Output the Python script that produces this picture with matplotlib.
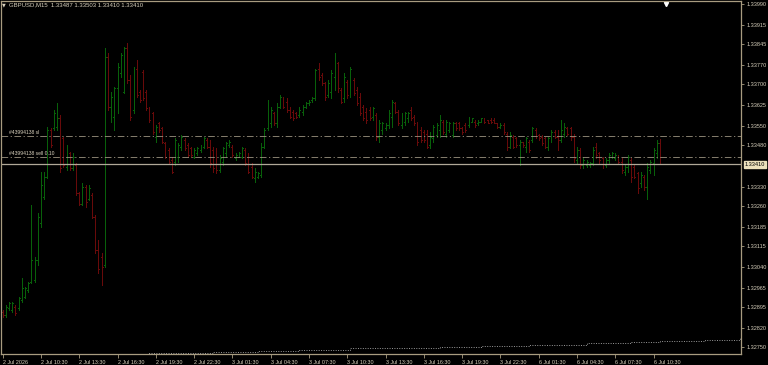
import numpy as np
import matplotlib.pyplot as plt

# GBPUSD M15 bars (bar index 0 = 2 Jul 07:30)
highs = [1.32884, 1.32902, 1.32914, 1.32914, 1.32902, 1.32932, 1.32998, 1.32968, 1.32986, 1.33263,
         1.33077, 1.33233, 1.33384, 1.33384, 1.33547, 1.33541, 1.33607, 1.33631, 1.33589, 1.33510,
         1.33480, 1.33456, 1.33450, 1.33414, 1.33312, 1.33342, 1.33336, 1.33336, 1.33306, 1.33227,
         1.33137, 1.33089, 1.33830, 1.33812, 1.33673, 1.33691, 1.33776, 1.33812, 1.33836, 1.33848,
         1.33733, 1.33763, 1.33788, 1.33679, 1.33751, 1.33679, 1.33619, 1.33601, 1.33553, 1.33565,
         1.33547, 1.33492, 1.33468, 1.33438, 1.33504, 1.33486, 1.33516, 1.33504, 1.33486, 1.33474,
         1.33468, 1.33474, 1.33480, 1.33510, 1.33504, 1.33498, 1.33474, 1.33468, 1.33444, 1.33474,
         1.33492, 1.33498, 1.33480, 1.33450, 1.33456, 1.33474, 1.33468, 1.33450, 1.33414, 1.33396,
         1.33384, 1.33486, 1.33541, 1.33643, 1.33619, 1.33601, 1.33631, 1.33661, 1.33655, 1.33649,
         1.33619, 1.33607, 1.33601, 1.33619, 1.33625, 1.33637, 1.33643, 1.33655, 1.33757, 1.33776,
         1.33739, 1.33709, 1.33715, 1.33751, 1.33812, 1.33782, 1.33685, 1.33739, 1.33715, 1.33763,
         1.33721, 1.33691, 1.33667, 1.33625, 1.33613, 1.33619, 1.33619, 1.33595, 1.33571, 1.33565,
         1.33559, 1.33607, 1.33643, 1.33637, 1.33607, 1.33595, 1.33601, 1.33601, 1.33619, 1.33589,
         1.33565, 1.33547, 1.33535, 1.33535, 1.33528, 1.33553, 1.33559, 1.33589, 1.33571, 1.33571,
         1.33565, 1.33565, 1.33565, 1.33565, 1.33547, 1.33559, 1.33583, 1.33577, 1.33571, 1.33571,
         1.33577, 1.33577, 1.33571, 1.33577, 1.33577, 1.33559, 1.33559, 1.33559, 1.33528, 1.33528,
         1.33516, 1.33510, 1.33498, 1.33492, 1.33510, 1.33498, 1.33547, 1.33541, 1.33522, 1.33516,
         1.33510, 1.33510, 1.33535, 1.33535, 1.33535, 1.33571, 1.33559, 1.33547, 1.33547, 1.33522,
         1.33474, 1.33468, 1.33438, 1.33426, 1.33420, 1.33474, 1.33486, 1.33456, 1.33438, 1.33432,
         1.33450, 1.33456, 1.33450, 1.33444, 1.33432, 1.33408, 1.33444, 1.33432, 1.33408, 1.33384,
         1.33384, 1.33372, 1.33414, 1.33426, 1.33468, 1.33498, 1.33503]
lows = [1.32860, 1.32860, 1.32884, 1.32878, 1.32866, 1.32884, 1.32914, 1.32926, 1.32950, 1.32980,
        1.32986, 1.33046, 1.33185, 1.33287, 1.33360, 1.33474, 1.33535, 1.33535, 1.33384, 1.33402,
        1.33390, 1.33390, 1.33390, 1.33300, 1.33263, 1.33263, 1.33257, 1.33281, 1.33215, 1.33089,
        1.33016, 1.32974, 1.33040, 1.33607, 1.33565, 1.33535, 1.33595, 1.33727, 1.33667, 1.33703,
        1.33571, 1.33595, 1.33655, 1.33637, 1.33643, 1.33607, 1.33565, 1.33522, 1.33492, 1.33528,
        1.33486, 1.33432, 1.33414, 1.33378, 1.33408, 1.33420, 1.33462, 1.33462, 1.33438, 1.33438,
        1.33432, 1.33444, 1.33456, 1.33468, 1.33468, 1.33402, 1.33384, 1.33378, 1.33384, 1.33408,
        1.33438, 1.33474, 1.33438, 1.33426, 1.33438, 1.33432, 1.33408, 1.33378, 1.33360, 1.33348,
        1.33360, 1.33366, 1.33468, 1.33535, 1.33547, 1.33553, 1.33547, 1.33613, 1.33613, 1.33601,
        1.33577, 1.33571, 1.33577, 1.33583, 1.33589, 1.33613, 1.33625, 1.33637, 1.33643, 1.33715,
        1.33697, 1.33643, 1.33655, 1.33649, 1.33679, 1.33673, 1.33631, 1.33637, 1.33649, 1.33655,
        1.33661, 1.33625, 1.33589, 1.33571, 1.33559, 1.33571, 1.33571, 1.33498, 1.33492, 1.33522,
        1.33535, 1.33541, 1.33547, 1.33595, 1.33553, 1.33541, 1.33553, 1.33565, 1.33571, 1.33553,
        1.33480, 1.33492, 1.33492, 1.33468, 1.33468, 1.33492, 1.33510, 1.33510, 1.33522, 1.33510,
        1.33528, 1.33510, 1.33535, 1.33535, 1.33522, 1.33528, 1.33547, 1.33565, 1.33547, 1.33553,
        1.33565, 1.33559, 1.33559, 1.33559, 1.33559, 1.33541, 1.33541, 1.33522, 1.33462, 1.33468,
        1.33468, 1.33474, 1.33408, 1.33474, 1.33456, 1.33456, 1.33492, 1.33504, 1.33498, 1.33480,
        1.33468, 1.33462, 1.33492, 1.33504, 1.33462, 1.33492, 1.33510, 1.33516, 1.33498, 1.33420,
        1.33414, 1.33396, 1.33396, 1.33402, 1.33402, 1.33408, 1.33432, 1.33414, 1.33396, 1.33402,
        1.33414, 1.33432, 1.33426, 1.33414, 1.33378, 1.33372, 1.33384, 1.33348, 1.33360, 1.33306,
        1.33330, 1.33318, 1.33287, 1.33378, 1.33372, 1.33432, 1.33410]
opens = [1.32878, 1.32866, 1.32890, 1.32884, 1.32896, 1.32890, 1.32920, 1.32932, 1.32956, 1.32986,
         1.32992, 1.33064, 1.33197, 1.33294, 1.33366, 1.33535, 1.33541, 1.33547, 1.33577, 1.33504,
         1.33402, 1.33450, 1.33396, 1.33408, 1.33306, 1.33269, 1.33330, 1.33287, 1.33300, 1.33221,
         1.33101, 1.33077, 1.33046, 1.33800, 1.33619, 1.33583, 1.33685, 1.33739, 1.33673, 1.33830,
         1.33715, 1.33607, 1.33757, 1.33673, 1.33745, 1.33673, 1.33613, 1.33595, 1.33510, 1.33559,
         1.33541, 1.33486, 1.33462, 1.33426, 1.33420, 1.33438, 1.33474, 1.33498, 1.33480, 1.33468,
         1.33438, 1.33450, 1.33462, 1.33474, 1.33498, 1.33474, 1.33462, 1.33450, 1.33390, 1.33420,
         1.33450, 1.33480, 1.33474, 1.33432, 1.33438, 1.33438, 1.33462, 1.33438, 1.33402, 1.33360,
         1.33366, 1.33372, 1.33474, 1.33541, 1.33559, 1.33595, 1.33559, 1.33619, 1.33649, 1.33637,
         1.33607, 1.33601, 1.33595, 1.33589, 1.33601, 1.33619, 1.33631, 1.33643, 1.33649, 1.33757,
         1.33733, 1.33703, 1.33661, 1.33673, 1.33727, 1.33776, 1.33679, 1.33649, 1.33709, 1.33667,
         1.33715, 1.33679, 1.33655, 1.33619, 1.33601, 1.33607, 1.33583, 1.33589, 1.33510, 1.33535,
         1.33541, 1.33553, 1.33583, 1.33631, 1.33601, 1.33553, 1.33565, 1.33577, 1.33607, 1.33583,
         1.33559, 1.33535, 1.33528, 1.33522, 1.33480, 1.33504, 1.33516, 1.33535, 1.33565, 1.33522,
         1.33535, 1.33516, 1.33559, 1.33559, 1.33541, 1.33553, 1.33553, 1.33565, 1.33565, 1.33559,
         1.33565, 1.33577, 1.33571, 1.33571, 1.33571, 1.33559, 1.33547, 1.33553, 1.33522, 1.33474,
         1.33510, 1.33504, 1.33480, 1.33492, 1.33474, 1.33492, 1.33498, 1.33535, 1.33516, 1.33510,
         1.33504, 1.33474, 1.33504, 1.33528, 1.33510, 1.33498, 1.33522, 1.33541, 1.33541, 1.33510,
         1.33426, 1.33462, 1.33408, 1.33408, 1.33408, 1.33414, 1.33474, 1.33450, 1.33432, 1.33408,
         1.33426, 1.33438, 1.33432, 1.33444, 1.33420, 1.33384, 1.33402, 1.33426, 1.33402, 1.33378,
         1.33342, 1.33366, 1.33330, 1.33390, 1.33414, 1.33450, 1.33487]
closes = [1.32866, 1.32896, 1.32908, 1.32908, 1.32872, 1.32926, 1.32962, 1.32962, 1.32980, 1.33064,
          1.33064, 1.33221, 1.33336, 1.33366, 1.33535, 1.33480, 1.33595, 1.33577, 1.33396, 1.33408,
          1.33468, 1.33396, 1.33438, 1.33306, 1.33269, 1.33330, 1.33275, 1.33324, 1.33221, 1.33101,
          1.33034, 1.33040, 1.33800, 1.33619, 1.33655, 1.33685, 1.33763, 1.33806, 1.33830, 1.33715,
          1.33583, 1.33757, 1.33661, 1.33643, 1.33649, 1.33613, 1.33571, 1.33528, 1.33547, 1.33535,
          1.33492, 1.33438, 1.33420, 1.33384, 1.33498, 1.33480, 1.33510, 1.33468, 1.33444, 1.33444,
          1.33462, 1.33468, 1.33474, 1.33504, 1.33474, 1.33414, 1.33396, 1.33390, 1.33432, 1.33468,
          1.33486, 1.33492, 1.33444, 1.33444, 1.33450, 1.33468, 1.33414, 1.33384, 1.33366, 1.33384,
          1.33378, 1.33474, 1.33535, 1.33631, 1.33607, 1.33559, 1.33619, 1.33655, 1.33619, 1.33607,
          1.33583, 1.33577, 1.33583, 1.33607, 1.33619, 1.33631, 1.33637, 1.33649, 1.33751, 1.33727,
          1.33703, 1.33655, 1.33703, 1.33739, 1.33800, 1.33685, 1.33637, 1.33727, 1.33661, 1.33757,
          1.33667, 1.33631, 1.33595, 1.33577, 1.33571, 1.33577, 1.33613, 1.33510, 1.33559, 1.33559,
          1.33553, 1.33595, 1.33637, 1.33601, 1.33559, 1.33589, 1.33595, 1.33595, 1.33577, 1.33559,
          1.33492, 1.33498, 1.33498, 1.33474, 1.33510, 1.33547, 1.33553, 1.33571, 1.33528, 1.33565,
          1.33559, 1.33559, 1.33541, 1.33541, 1.33528, 1.33535, 1.33577, 1.33577, 1.33553, 1.33565,
          1.33577, 1.33565, 1.33559, 1.33565, 1.33559, 1.33547, 1.33553, 1.33528, 1.33474, 1.33516,
          1.33474, 1.33480, 1.33492, 1.33480, 1.33504, 1.33462, 1.33541, 1.33510, 1.33504, 1.33486,
          1.33474, 1.33504, 1.33528, 1.33510, 1.33498, 1.33535, 1.33547, 1.33522, 1.33510, 1.33432,
          1.33462, 1.33408, 1.33426, 1.33420, 1.33414, 1.33462, 1.33444, 1.33426, 1.33408, 1.33426,
          1.33444, 1.33450, 1.33444, 1.33420, 1.33390, 1.33402, 1.33438, 1.33366, 1.33366, 1.33324,
          1.33372, 1.33330, 1.33402, 1.33420, 1.33462, 1.33486, 1.33410]

time_labels = ['2 Jul 2026', '2 Jul 10:30', '2 Jul 13:30', '2 Jul 16:30', '2 Jul 19:30', '2 Jul 22:30',
               '3 Jul 01:30', '3 Jul 04:30', '3 Jul 07:30', '3 Jul 10:30', '3 Jul 13:30', '3 Jul 16:30',
               '3 Jul 19:30', '3 Jul 22:30', '6 Jul 01:30', '6 Jul 04:30', '6 Jul 07:30', '6 Jul 10:30']
price_ticks = [1.33990, 1.33915, 1.33845, 1.33770, 1.33700, 1.33625, 1.33550, 1.33480,
               1.33330, 1.33260, 1.33185, 1.33115, 1.33040, 1.32965, 1.32895, 1.32820, 1.32750]

sl_price = 1.33513
entry_price = 1.33437
bid_price = 1.33410

# faint dotted line along the bottom (bar index, price)
ind_x = [36, 46, 56, 66, 80, 93, 109, 126, 137, 150, 165, 183, 197, 206, 220, 231]
ind_vals = [1.32726, 1.32727, 1.32730, 1.32734, 1.32737, 1.32741, 1.32745, 1.32748,
            1.32750, 1.32754, 1.32759, 1.32765, 1.32768, 1.32772, 1.32777, 1.32783]

highs = np.array(highs); lows = np.array(lows)
opens = np.array(opens); closes = np.array(closes)
x = np.arange(len(highs))

bg = 'black'
frame = '#a89c80'
txt = '#d8d0bc'
up = '#08600a'
down = '#680a0a'
cols = np.where(closes >= opens, up, down)

fig = plt.figure(figsize=(7.68, 3.65), dpi=100, facecolor=bg)
ax = fig.add_axes([1 / 768, 11 / 365, 740 / 768, 353 / 365], facecolor=bg)

# OHLC bars, 1 px wide
ax.vlines(x, lows, highs, colors=cols, linewidth=0.72, antialiased=False)
ax.hlines(opens, x - 0.3, x, colors=cols, linewidth=0.72, antialiased=False)
ax.hlines(closes, x, x + 0.3, colors=cols, linewidth=0.72, antialiased=False)

# order lines
ax.axhline(sl_price, color='#9c9480', lw=0.6, ls=(0, (8, 3, 1.5, 3)))
ax.axhline(entry_price, color='#9c9480', lw=0.6, ls=(0, (8, 3, 1.5, 3)))
ax.axhline(bid_price, color='#b0a898', lw=0.9)
ax.text(2, sl_price + 0.00004, '#43994138 sl', color=txt, fontsize=3.6,
        family='Liberation Sans', va='bottom')
ax.text(2, entry_price + 0.00004, '#43994138 sell 0.10', color=txt, fontsize=3.6,
        family='Liberation Sans', va='bottom')

ax.step(ind_x, ind_vals, where='post', color='#9a9a9a', lw=0.7, ls=(0, (1, 1.5)))

ax.set_xlim(-0.53, 231.4)
ax.set_ylim(1.32725, 1.34001)

for s in ax.spines.values():
    s.set_color(frame)
    s.set_linewidth(0.9)

ax.yaxis.tick_right()
ax.set_yticks(price_ticks)
ax.set_yticklabels(['%.5f' % p for p in price_ticks])
ax.tick_params(axis='y', colors=frame, labelcolor=txt, labelsize=4, length=2, width=0.6, pad=2)
ax.set_xticks(x[::12])
ax.set_xticklabels(time_labels, ha='left')
ax.tick_params(axis='x', colors=frame, labelcolor=txt, labelsize=3.9, length=3, width=0.6, pad=1)
for lbl in ax.get_xticklabels() + ax.get_yticklabels():
    lbl.set_family('Liberation Sans')

# current bid box on the price scale
ax.annotate('%.5f' % bid_price, xy=(1.0, bid_price), xycoords=('axes fraction', 'data'),
            xytext=(2.5, 0), textcoords='offset points', va='center', ha='left',
            fontsize=4, family='Liberation Sans', color='black',
            bbox=dict(boxstyle='square,pad=0.15', fc='#ece0bc', ec='#ece0bc'))

# title and small markers
fig.text(9 / 768, 1 - 5 / 365, 'GBPUSD,M15  1.33487 1.33503 1.33410 1.33410', color=txt,
         fontsize=4.3, family='Liberation Sans', va='center')
fig.text(2 / 768, 1 - 5 / 365, '\u25bc', color=txt, fontsize=3.5, va='center')
ax.plot([208], [1.33990], marker='v', ms=3, color='white', clip_on=False)

fig.savefig('out.png', dpi=100, facecolor=bg)
